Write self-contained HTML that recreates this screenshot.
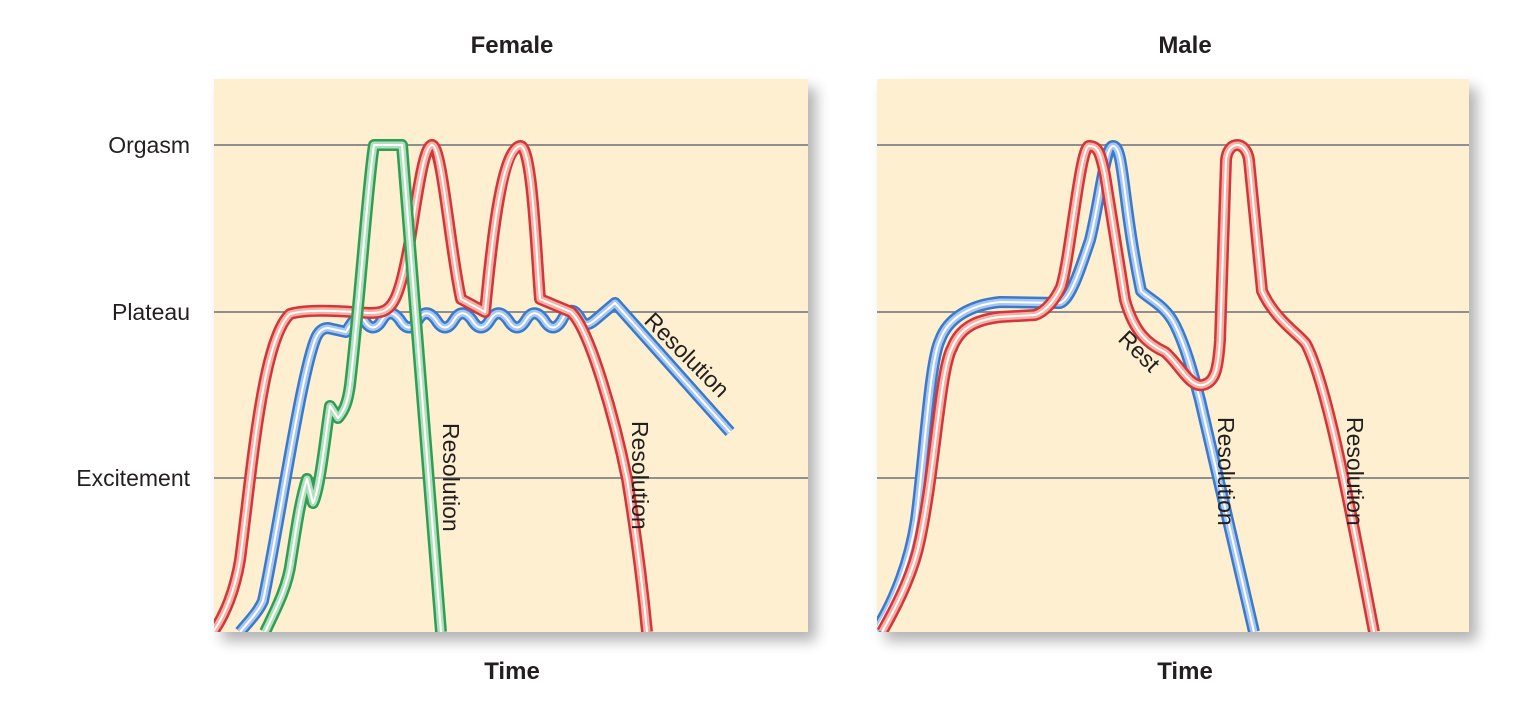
<!DOCTYPE html>
<html><head><meta charset="utf-8"><style>
html,body{margin:0;padding:0;background:#fff;}
svg{display:block;}
text{font-family:"Liberation Sans",sans-serif;fill:#231f20;}
</style></head><body>
<svg width="1524" height="715" viewBox="0 0 1524 715" xmlns="http://www.w3.org/2000/svg">
<defs>
<filter id="sh" x="-5%" y="-5%" width="115%" height="115%"><feGaussianBlur stdDeviation="7"/></filter>
<clipPath id="cl"><rect x="214" y="79" width="594" height="553"/></clipPath>
<clipPath id="cr"><rect x="877" y="79" width="592" height="553"/></clipPath>
</defs>
<rect x="222" y="88" width="594" height="553" fill="#000" opacity="0.3" filter="url(#sh)"/>
<rect x="885" y="88" width="592" height="553" fill="#000" opacity="0.3" filter="url(#sh)"/>
<rect x="214" y="79" width="594" height="553" fill="#fdefd0"/>
<rect x="877" y="79" width="592" height="553" fill="#fdefd0"/>
<g stroke="#8f8f8f" stroke-width="2">
<line x1="214" y1="145" x2="808" y2="145"/><line x1="214" y1="312" x2="808" y2="312"/><line x1="214" y1="478" x2="808" y2="478"/>
<line x1="877" y1="145" x2="1469" y2="145"/><line x1="877" y1="312" x2="1469" y2="312"/><line x1="877" y1="478" x2="1469" y2="478"/>
</g>
<g font-size="23" text-anchor="end">
<text x="190" y="153">Orgasm</text><text x="190" y="320">Plateau</text><text x="190" y="486">Excitement</text>
</g>
<g font-size="24" font-weight="bold" text-anchor="middle">
<text x="512" y="53">Female</text><text x="1185" y="53">Male</text>
<text x="512" y="679">Time</text><text x="1185" y="679">Time</text>
</g>
<g fill="none" stroke-linejoin="round" stroke-linecap="butt" clip-path="url(#cl)">
<g id="fb">
<path d="M240,632 C250,620 258,612 263,601 C280,520 300,380 315,340 C318,332 322,328 328,328 L346,332 C352,322 358,312 364,320 C370,330 376,330 382,320 C388,310 394,312 400,320 C406,330 412,330 418,320 C424,310 430,312 436,320 C442,330 448,330 454,320 C460,310 466,312 472,320 C478,330 484,330 490,320 C496,310 502,312 508,320 C514,330 520,330 526,320 C532,310 538,312 544,320 C550,330 556,330 562,320 C568,308 574,308 580,318 C584,326 588,326 595,320 L615,303 L730,432"/>
</g>
<g id="fr">
<path d="M213,632 C225,615 235,590 240,560 C252,470 262,340 290,314 C310,308 350,312 370,313 C392,313 398,306 410,240 C418,190 424,146 432,145 C442,145 450,250 461,299 L485,312 C490,260 500,150 520,146 C532,144 536,250 540,299 L571,312 C590,330 615,420 627,479 C637,540 643,590 647,632"/>
</g>
<g id="fg">
<path d="M265,632 C278,605 288,585 291,561 C296,530 300,500 307,479 L313,503 C320,490 326,430 330,406 L338,418 C345,410 348,400 350,385 C360,300 368,180 374,145 L402,145 L441,632"/>
</g>
</g>
<g fill="none" stroke-linejoin="round" clip-path="url(#cl)">
<use href="#fb" stroke="#3a7acb" stroke-width="12"/><use href="#fb" stroke="#a9c7ee" stroke-width="7"/><use href="#fb" stroke="#fff" stroke-width="2"/>
<use href="#fr" stroke="#d3353a" stroke-width="12"/><use href="#fr" stroke="#f4b0a3" stroke-width="7"/><use href="#fr" stroke="#fff" stroke-width="2"/>
<use href="#fg" stroke="#2f9e55" stroke-width="12"/><use href="#fg" stroke="#b3dfbf" stroke-width="7"/><use href="#fg" stroke="#fff" stroke-width="2"/>
</g>
<g fill="none" stroke-linejoin="round" clip-path="url(#cr)">
<g id="mb"><path d="M876,630 C895,600 910,560 916,520 C925,450 930,360 940,340 C948,318 970,305 1000,302 L1060,303 C1070,300 1080,270 1090,240 C1100,200 1105,146 1113,146 C1124,146 1122,200 1141,291 C1150,300 1165,305 1175,325 C1185,345 1192,370 1200,400 L1254,632"/></g>
<g id="mr"><path d="M882,632 C900,600 914,570 920,540 C935,470 940,370 952,348 C960,328 975,320 1000,317 L1035,315 C1045,312 1055,300 1061,287 C1070,260 1080,146 1089,146 C1097,146 1100,150 1105,175 L1125,300 C1135,335 1150,345 1165,352 C1180,365 1190,388 1203,385 C1215,382 1218,370 1220,340 L1226,160 C1228,140 1246,140 1249,160 L1262,291 C1275,320 1300,335 1306,344 C1325,380 1345,480 1374,632"/></g>
</g>
<g fill="none" stroke-linejoin="round" clip-path="url(#cr)">
<use href="#mb" stroke="#3a7acb" stroke-width="12"/><use href="#mb" stroke="#a9c7ee" stroke-width="7"/><use href="#mb" stroke="#fff" stroke-width="2"/>
<use href="#mr" stroke="#d3353a" stroke-width="12"/><use href="#mr" stroke="#f4b0a3" stroke-width="7"/><use href="#mr" stroke="#fff" stroke-width="2"/>
</g>
<g font-size="23">
<text transform="translate(443,423) rotate(90)">Resolution</text>
<text transform="translate(632,421) rotate(90)">Resolution</text>
<text transform="translate(643,322) rotate(45)">Resolution</text>
<text transform="translate(1218,417) rotate(90)">Resolution</text>
<text transform="translate(1347,417) rotate(90)">Resolution</text>
<text transform="translate(1117,340) rotate(45)">Rest</text>
</g>
</svg>
</body></html>
